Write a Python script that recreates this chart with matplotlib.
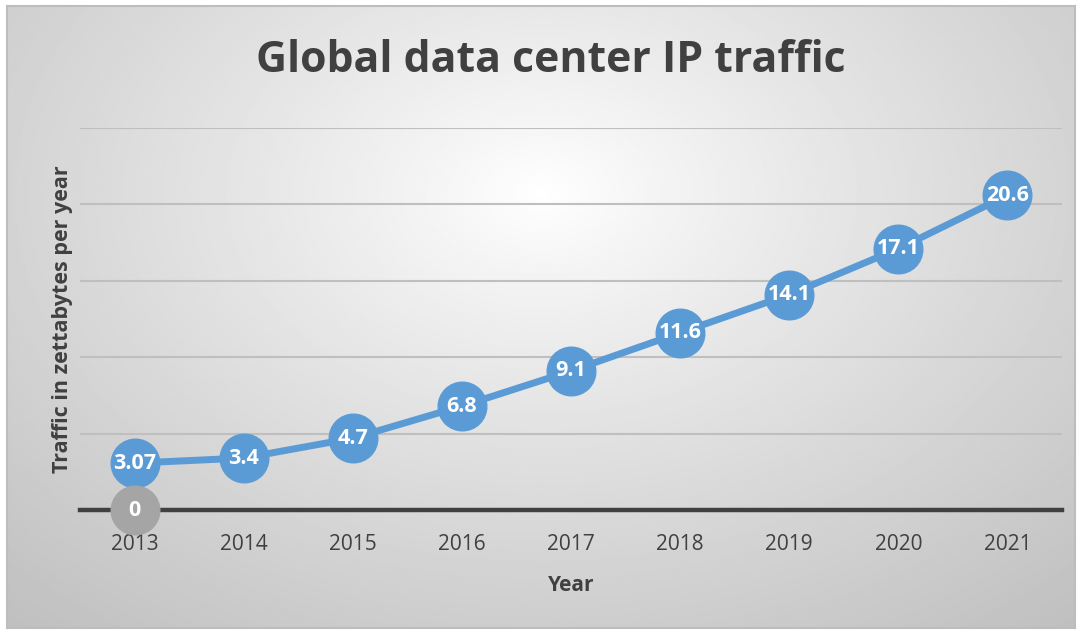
import numpy as np
import matplotlib
matplotlib.use("Agg")
import matplotlib.pyplot as plt

years = [2013, 2014, 2015, 2016, 2017, 2018, 2019, 2020, 2021]
traffic = [3.07, 3.4, 4.7, 6.8, 9.1, 11.6, 14.1, 17.1, 20.6]
base_years = [2013]
base_values = [0]
title = "Global data center IP traffic"
xlabel = "Year"
ylabel = "Traffic in zettabytes per year"

plt.rcParams['font.family'] = ['Open Sans', 'DejaVu Sans']

W, H = 1082, 632
fig = plt.figure(figsize=(W / 100, H / 100), dpi=100)
fig.patch.set_facecolor('white')

# background radial gradient
bg = fig.add_axes([7 / W, 1 - 628 / H, (1075 - 7) / W, (628 - 6) / H], zorder=0)
yy, xx = np.mgrid[0:300, 0:500]
cx, cy = 500 * 0.50, 300 * 0.30
r = np.sqrt(((xx - cx) / 500) ** 2 + ((yy - cy) / 300) ** 2 * 0.7)
r = r / r.max()
val = 1.0 - 0.25 * np.clip(r, 0, 1) ** 0.9
bg.imshow(val, cmap='gray', vmin=0, vmax=1, aspect='auto', interpolation='bilinear')
bg.set_xticks([]); bg.set_yticks([])
for s in bg.spines.values():
    s.set_color('#bdbdbd'); s.set_linewidth(1.5)

ax = fig.add_axes([80 / W, 1 - 510 / H, (1062 - 80) / W, (510 - 128) / H], zorder=1)
ax.patch.set_alpha(0)
ax.set_xlim(2012.5, 2021.5)
ax.set_ylim(0, 25)
ax.set_yticks([0, 5, 10, 15, 20, 25])
ax.yaxis.grid(True, color='#bfbfbf', linewidth=1.5)
ax.set_axisbelow(True)
ax.tick_params(axis='y', left=False, labelleft=False)
ax.tick_params(axis='x', bottom=False, labelsize=15, labelcolor='#404040', pad=14)
ax.set_xticks(years)
for s in ax.spines.values():
    s.set_visible(False)
ax.axhline(0, color='#404040', linewidth=3.2, zorder=2, clip_on=False)

ax.plot(years, traffic, color='#5b9bd5', linewidth=5, marker='o', markersize=35,
        markerfacecolor='#5b9bd5', markeredgecolor='#5b9bd5', zorder=3, clip_on=False)
ax.plot(base_years, base_values, linestyle='none', marker='o', markersize=35,
        markerfacecolor='#a5a5a5', markeredgecolor='#a5a5a5', zorder=4, clip_on=False)

for x, y in zip(years, traffic):
    ax.text(x, y, f"{y:g}", ha='center', va='center', color='white',
            fontsize=15.5, fontweight='bold', zorder=5)
for x, y in zip(base_years, base_values):
    ax.text(x, y, f"{y:g}", ha='center', va='center', color='white',
            fontsize=15.5, fontweight='bold', zorder=5)

ax.set_xlabel(xlabel, fontsize=15, fontweight='bold', color='#404040', labelpad=14)
ax.set_ylabel(ylabel, fontsize=15.5, fontweight='bold', color='#404040')
ax.yaxis.set_label_coords(-7 / (1062 - 80), 0.5)

fig.text(551 / W, 1 - 60 / H, title, ha='center', va='center', fontsize=30.8,
         fontweight='bold', color='#404040')

fig.savefig('out.png', dpi=100)
